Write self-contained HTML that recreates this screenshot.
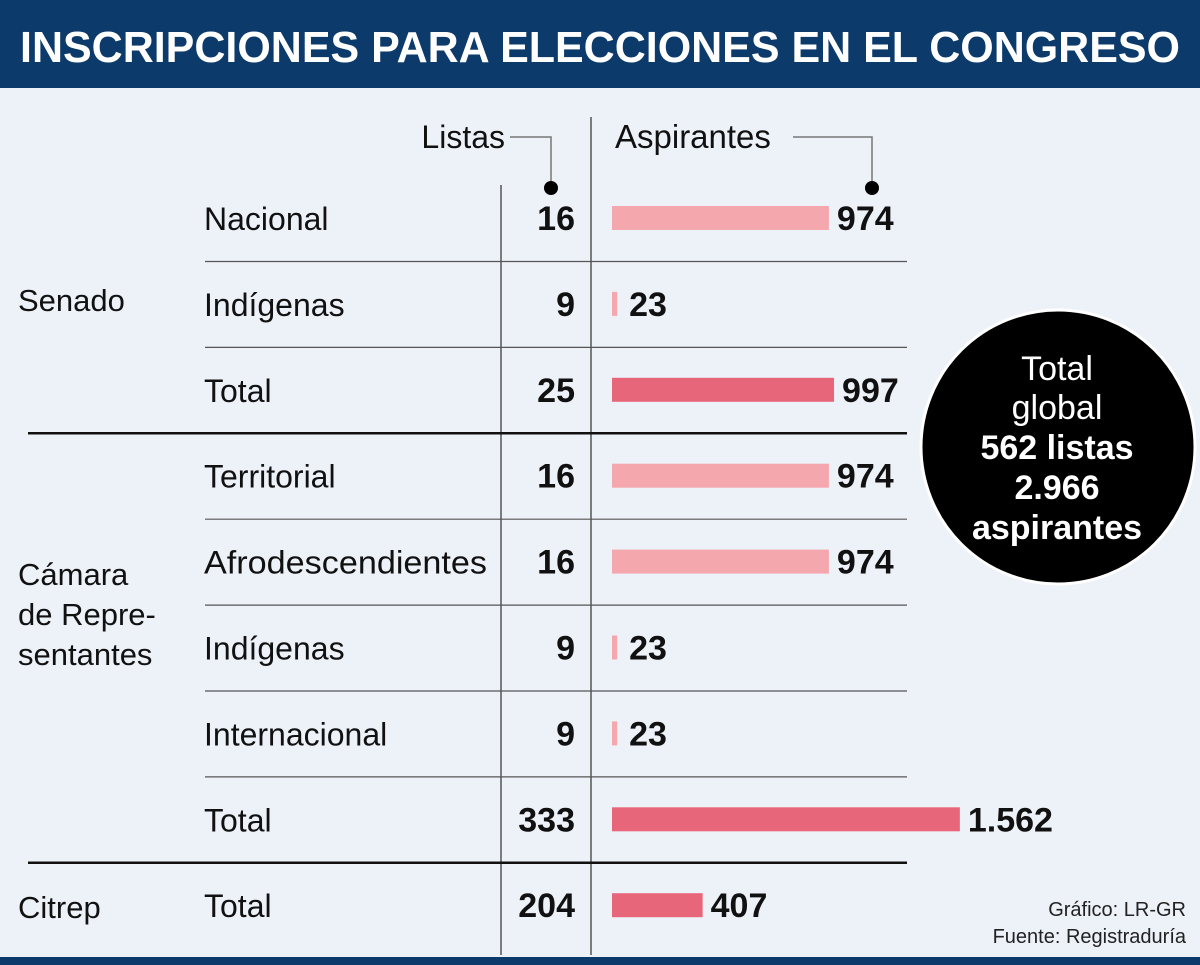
<!DOCTYPE html>
<html><head><meta charset="utf-8"><style>
body{margin:0;width:1200px;height:965px;overflow:hidden;background:#edf1f8;font-family:"Liberation Sans",sans-serif}
svg{display:block}
</style></head><body>
<svg width="1200" height="965" id="c">
<rect x="0" y="0" width="1200" height="88" fill="#0b3a6b"/>
<text x="600" y="62" text-anchor="middle" fill="#fff" font-size="44" font-weight="bold" textLength="1160" lengthAdjust="spacingAndGlyphs">INSCRIPCIONES PARA ELECCIONES EN EL CONGRESO</text>
<rect x="0" y="957" width="1200" height="8" fill="#0b3a6b"/>
<text x="505" y="148" text-anchor="end" font-size="32" fill="#111">Listas</text>
<polyline points="510,137 551,137 551,188" fill="none" stroke="#777" stroke-width="1.5"/>
<circle cx="551" cy="188" r="7" fill="#000"/>
<text x="615" y="148" font-size="33" fill="#111">Aspirantes</text>
<polyline points="793,137 872,137 872,188" fill="none" stroke="#777" stroke-width="1.5"/>
<circle cx="872" cy="188" r="7" fill="#000"/>
<line x1="501" y1="185" x2="501" y2="955" stroke="#555" stroke-width="1.5"/>
<line x1="591" y1="117" x2="591" y2="955" stroke="#555" stroke-width="1.5"/>
<text x="18" y="311" font-size="31" fill="#111">Senado</text>
<text font-size="31" fill="#111"><tspan x="18" y="585">Cámara</tspan><tspan x="18" y="625">de Repre-</tspan><tspan x="18" y="665">sentantes</tspan></text>
<text x="18" y="918" font-size="31" fill="#111">Citrep</text>
<circle cx="1058" cy="447" r="137" fill="#000" stroke="#fff" stroke-width="3"/>
<text text-anchor="middle" fill="#fff" font-size="34"><tspan x="1057" y="380">Total</tspan><tspan x="1057" y="419">global</tspan><tspan x="1057" y="459" font-weight="bold">562 listas</tspan><tspan x="1057" y="499" font-weight="bold">2.966</tspan><tspan x="1057" y="539" font-weight="bold">aspirantes</tspan></text>
<text text-anchor="end" font-size="20" fill="#222"><tspan x="1186" y="916">Gráfico: LR-GR</tspan><tspan x="1186" y="943">Fuente: Registraduría</tspan></text>
<g id="rows"></g>
</svg>
<script>
const categories=["Nacional","Indígenas","Total","Territorial","Afrodescendientes","Indígenas","Internacional","Total","Total"];
const listas=[16,9,25,16,16,9,9,333,204];
const aspirantes=[974,23,997,974,974,23,23,1562,407];
const aspLabels=["974","23","997","974","974","23","23","1.562","407"];
const isTotal=[false,false,true,false,false,false,false,true,true];
const NS="http://www.w3.org/2000/svg";
const g=document.getElementById('rows');
const x0=612, k=0.2227;
const xs=v=>x0+v*k;
const rowY=i=>218+i*85.9;
function mk(t,a){const e=document.createElementNS(NS,t);for(const n in a)e.setAttribute(n,a[n]);g.appendChild(e);return e;}
categories.forEach((c,i)=>{
 const y=rowY(i);
 const t=mk('text',{x:204,y:y+12,'font-size':32,fill:'#111'});t.textContent=c;
 if(c==="Afrodescendientes"){t.setAttribute('textLength',283);t.setAttribute('lengthAdjust','spacingAndGlyphs');}
 
 
 const l=mk('text',{x:575,y:y+12,'font-size':34,'font-weight':'bold','text-anchor':'end',fill:'#111'});l.textContent=listas[i];
 
 
 const w=Math.max(xs(aspirantes[i])-x0,5);
 const b=mk('rect',{x:x0,y:y-12,width:w,height:24,fill:isTotal[i]?'#e8667a':'#f4a8ae'});
 
 
 const a=mk('text',{x:x0+w+(aspirantes[i]<100?12:8),y:y+12,'font-size':34,'font-weight':'bold',fill:'#111'});a.textContent=aspLabels[i];
 
 
 if(i<8){
  const thick=(i===2||i===7);
  const ln=mk('line',{x1:thick?28:205,x2:907,y1:y+43.5,y2:y+43.5,stroke:thick?'#111':'#555','stroke-width':thick?2.5:1.2});
  
  
 }
});
</script>
</body></html>
